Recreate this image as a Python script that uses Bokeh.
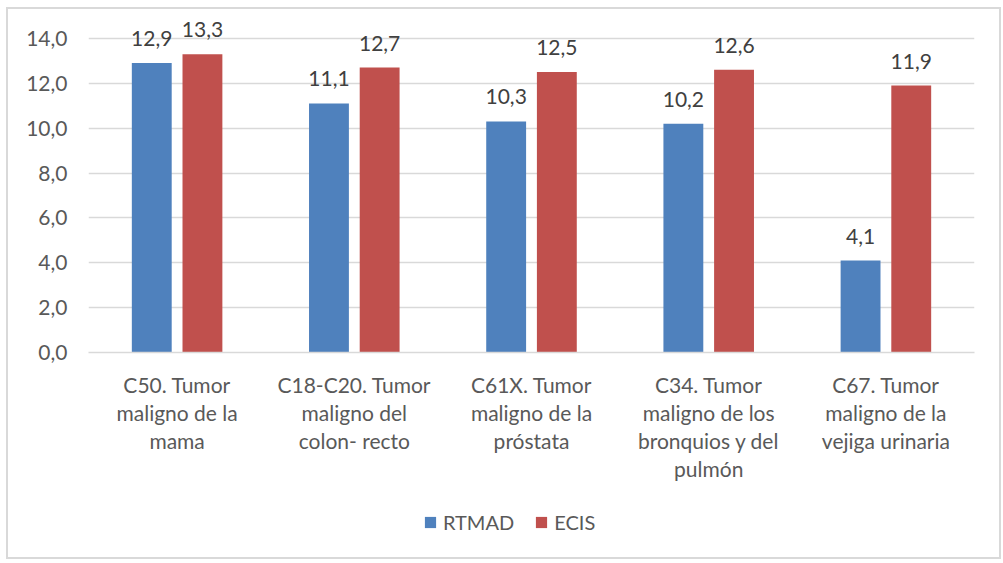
from bokeh.plotting import figure
from bokeh.layouts import column
from bokeh.models import ColumnDataSource, FactorRange, FixedTicker, Legend, LegendItem, LabelSet
from bokeh.core.properties import value
from bokeh.transform import dodge
from bokeh.embed import file_html
from bokeh.resources import INLINE

categories = [
    "C50. Tumor\nmaligno de la\nmama",
    "C18-C20. Tumor\nmaligno del\ncolon- recto",
    "C61X. Tumor\nmaligno de la\npróstata",
    "C34. Tumor\nmaligno de los\nbronquios y del\npulmón",
    "C67. Tumor\nmaligno de la\nvejiga urinaria",
]
rtmad = [12.9, 11.1, 10.3, 10.2, 4.1]
ecis = [13.3, 12.7, 12.5, 12.6, 11.9]
y_ticks = [0, 2, 4, 6, 8, 10, 12, 14]
series_names = ["RTMAD", "ECIS"]

FONT = "Lato"
TXT = "#595959"
BLUE = "#4F81BD"
RED = "#C0504D"
W = 991

src = ColumnDataSource(dict(
    cat=categories, rtmad=rtmad, ecis=ecis,
    rtmad_lbl=[f"{v:.1f}".replace(".", ",") for v in rtmad],
    ecis_lbl=[f"{v:.1f}".replace(".", ",") for v in ecis],
))

p = figure(width=W, height=493, x_range=FactorRange(*categories, range_padding=0),
           y_range=(0, 15.2), output_backend="svg", toolbar_location=None,
           min_border_left=80, min_border_right=25, min_border_top=2, min_border_bottom=150)

r1 = p.vbar(x=dodge("cat", -0.143, range=p.x_range), top="rtmad", width=0.225,
            source=src, fill_color=BLUE, line_color=None)
r2 = p.vbar(x=dodge("cat", 0.143, range=p.x_range), top="ecis", width=0.225,
            source=src, fill_color=RED, line_color=None)

for col, lbl, off in (("rtmad", "rtmad_lbl", -0.143), ("ecis", "ecis_lbl", 0.143)):
    ls = LabelSet(x=dodge("cat", off, range=p.x_range), y=col, text=lbl, source=src,
                  text_align="center", text_baseline="alphabetic", y_offset=17,
                  text_font=value(FONT), text_font_size=value("21px"), text_color="#404040")
    p.add_layout(ls)

p.outline_line_color = None
p.xgrid.grid_line_color = None
p.ygrid.grid_line_color = "#D9D9D9"
p.ygrid.grid_line_width = 1.5
p.ygrid.ticker = FixedTicker(ticks=y_ticks)

p.yaxis.ticker = FixedTicker(ticks=y_ticks)
p.yaxis.major_label_overrides = {t: f"{t:.1f}".replace(".", ",") for t in y_ticks}
p.yaxis.axis_line_color = None
p.yaxis.major_tick_line_color = None
p.yaxis.minor_tick_line_color = None
p.yaxis.major_label_standoff = 15
p.yaxis.major_label_text_font = FONT
p.yaxis.major_label_text_font_size = "21px"
p.yaxis.major_label_text_color = TXT

p.xaxis.axis_line_color = "#D9D9D9"
p.xaxis.axis_line_width = 1.5
p.xaxis.major_tick_line_color = None
p.xaxis.minor_tick_line_color = None
p.xaxis.major_label_standoff = 13
p.xaxis.major_label_text_font = FONT
p.xaxis.major_label_text_font_size = "21px"
p.xaxis.major_label_text_color = TXT
p.xaxis.major_label_text_line_height = 1.13

# legend panel below the chart
lf = figure(width=W, height=55, x_range=(0, 1), y_range=(0, 1), output_backend="svg",
            toolbar_location=None, x_axis_location=None, y_axis_location=None,
            min_border_left=0, min_border_right=0, min_border_top=0, min_border_bottom=15)
lf.outline_line_color = None
lf.grid.grid_line_color = None
hidden = ColumnDataSource(dict(x=[0.5], top=[0.0]))
l1 = lf.vbar(x="x", top="top", bottom=0.0, width=0.01, source=hidden, fill_color=BLUE, line_color=None)
l2 = lf.vbar(x="x", top="top", bottom=0.0, width=0.01, source=hidden, fill_color=RED, line_color=None)
legend = Legend(items=[LegendItem(label=series_names[0], renderers=[l1]),
                       LegendItem(label=series_names[1], renderers=[l2])],
                orientation="horizontal", location=(335, 8),
                label_text_font=FONT, label_text_font_size="20px", label_text_color=TXT,
                glyph_width=14, glyph_height=14, spacing=20, label_standoff=6,
                border_line_color=None, background_fill_alpha=0, padding=0, margin=0)
lf.add_layout(legend, "center")

layout = column(p, lf, spacing=0)
layout.styles = {"border": "2px solid #D9D9D9", "margin-left": "6px", "margin-top": "7px"}

open("out.html", "w").write(file_html(layout, INLINE))
